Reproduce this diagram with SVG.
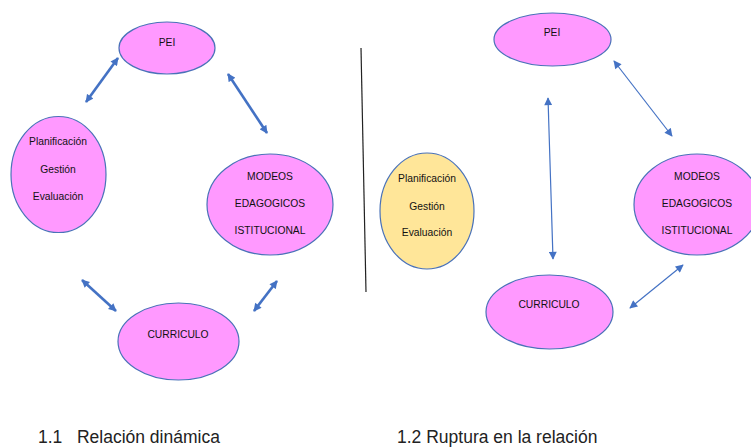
<svg xmlns="http://www.w3.org/2000/svg" width="751" height="448" viewBox="0 0 751 448">
<style>
.pink{fill:#FF99FF;stroke:#4A72B8;stroke-width:1.2}
.yellow{fill:#FFE699;stroke:#4A72B8;stroke-width:1.2}
.lbl{font-family:"Liberation Sans",Arial,sans-serif;font-size:10.3px;fill:#111;text-anchor:middle}
.cap{font-family:"Liberation Sans",Arial,sans-serif;font-size:17.5px;fill:#222}
.thick{stroke:#4472C4;stroke-width:2.6;fill:none;marker-start:url(#ah);marker-end:url(#ah)}
.thin{stroke:#4472C4;stroke-width:1.2;fill:none;marker-start:url(#ah);marker-end:url(#ah)}
</style>
<defs>
<marker id="ah" viewBox="0 0 10 10" refX="9" refY="5" markerWidth="9" markerHeight="8" markerUnits="userSpaceOnUse" orient="auto-start-reverse">
<path d="M0,0 L10,5 L0,10 z" fill="#4472C4"/>
</marker>
</defs>
<rect width="751" height="448" fill="#fff"/>
<g id="connectors">
<line class="thick" x1="86" y1="102" x2="118" y2="58"/>
<line class="thick" x1="228" y1="74" x2="267" y2="133"/>
<line class="thick" x1="82" y1="280" x2="116" y2="311"/>
<line class="thick" x1="254" y1="311" x2="277" y2="281"/>
<line class="thin" x1="548" y1="98" x2="553" y2="259"/>
<line class="thin" x1="614" y1="61" x2="672" y2="136"/>
<line class="thin" x1="630" y1="308" x2="683" y2="265"/>
<line x1="361" y1="48" x2="366" y2="292" stroke="#222" stroke-width="1.2"/>
</g>
<g id="pei-left">
<ellipse class="pink" cx="167" cy="48" rx="48" ry="26"/>
<text class="lbl" x="167" y="46">PEI</text>
</g>
<g id="plan-left">
<ellipse class="pink" cx="58.5" cy="174.5" rx="47.5" ry="58"/>
<text class="lbl" x="58" y="145">Planificación</text>
<text class="lbl" x="58" y="173">Gestión</text>
<text class="lbl" x="58" y="200">Evaluación</text>
</g>
<g id="modeos-left">
<ellipse class="pink" cx="270" cy="204.5" rx="63" ry="50.5"/>
<text class="lbl" x="270" y="180">MODEOS</text>
<text class="lbl" x="270" y="207">EDAGOGICOS</text>
<text class="lbl" x="270" y="234">ISTITUCIONAL</text>
</g>
<g id="curriculo-left">
<ellipse class="pink" cx="178.5" cy="341.5" rx="60.5" ry="38.5"/>
<text class="lbl" x="178" y="338">CURRICULO</text>
</g>
<g id="pei-right">
<ellipse class="pink" cx="552.5" cy="39.5" rx="58.5" ry="26.5"/>
<text class="lbl" x="552" y="36">PEI</text>
</g>
<g id="plan-right">
<ellipse class="yellow" cx="427" cy="211" rx="47" ry="58"/>
<text class="lbl" x="427" y="182">Planificación</text>
<text class="lbl" x="427" y="210">Gestión</text>
<text class="lbl" x="427" y="236">Evaluación</text>
</g>
<g id="modeos-right">
<ellipse class="pink" cx="697" cy="204.5" rx="63" ry="50.5"/>
<text class="lbl" x="697" y="180">MODEOS</text>
<text class="lbl" x="697" y="207">EDAGOGICOS</text>
<text class="lbl" x="697" y="234">ISTITUCIONAL</text>
</g>
<g id="curriculo-right">
<ellipse class="pink" cx="549.5" cy="312" rx="63.5" ry="37"/>
<text class="lbl" x="549" y="308">CURRICULO</text>
</g>
<text class="cap" x="38" y="443" xml:space="preserve">1.1   Relación dinámica</text>
<text class="cap" x="397" y="443">1.2 Ruptura en la relación</text>
</svg>
